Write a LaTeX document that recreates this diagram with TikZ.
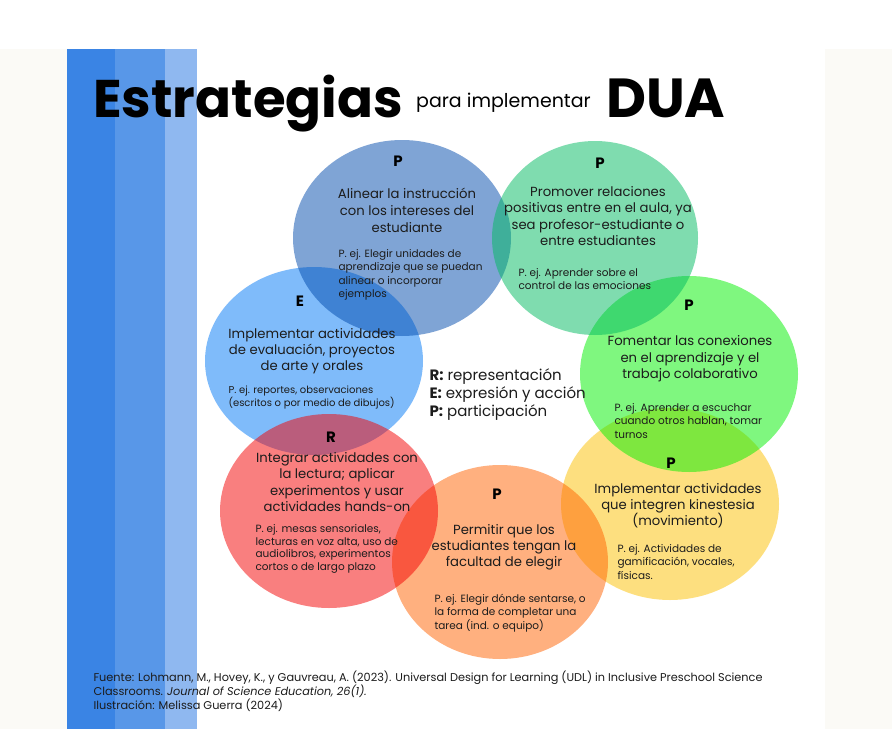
\documentclass[tikz,border=0pt]{standalone}
\usepackage{fontspec}
\setmainfont{Poppins}

\definecolor{paper}{RGB}{251,250,246}
\definecolor{barA}{RGB}{58,132,228}
\definecolor{barB}{RGB}{88,151,232}
\definecolor{barC}{RGB}{143,184,240}
\definecolor{ink}{RGB}{28,28,28}
\definecolor{cNavy}{RGB}{0,74,173}
\definecolor{cTeal}{RGB}{0,187,97}
\definecolor{cSky}{RGB}{0,120,247}
\definecolor{cLime}{RGB}{0,240,0}
\definecolor{cRed}{RGB}{245,0,0}
\definecolor{cOrange}{RGB}{255,98,0}
\definecolor{cYellow}{RGB}{253,193,0}

\tikzset{
    blob/.style = {fill opacity = 0.5},
    tag/.style = {font = {\bfseries\fontsize{15}{15}\selectfont}, text = black},
    idea/.style = {align = center, font = {\fontsize{13.2}{17}\selectfont}, text = ink},
    eg/.style = {anchor = west, align = left, font = {\fontsize{10.5}{13.5}\selectfont}, text = ink},
    key/.style = {anchor = west, font = {\fontsize{15}{18}\selectfont}, text = ink},
}

\begin{document}
\begin{tikzpicture}[x = 1pt, y = -1pt]
        \useasboundingbox (0, 0) rectangle (892, 747);
        \fill[white] (0, 0) rectangle (892, 747);
        \fill[paper] (0, 49) rectangle (892, 729);
        \fill[white] (67, 49) rectangle (825, 729);
        \fill[barA] (67, 49) rectangle (115, 729);
        \fill[barB] (115, 49) rectangle (165, 729);
        \fill[barC] (165, 49) rectangle (197, 729);

        \node[anchor = base west, inner sep = 0, font = {\bfseries\fontsize{53}{53}\selectfont}, black] (title) at (93, 117) {Estrategias};
        \node[anchor = base west, inner sep = 0, font = {\fontsize{19}{19}\selectfont}, black] (sub) at (416, 107) {para implementar};
        \node[anchor = base west, inner sep = 0, font = {\bfseries\fontsize{55}{55}\selectfont}, black] (dua) at (606, 117) {DUA};

        \fill[cYellow, blob] (670, 504) ellipse [x radius = 109, y radius = 96];
        \fill[cSky, blob] (314, 361) ellipse [x radius = 109, y radius = 94];
        \fill[cLime, blob] (689, 374) ellipse [x radius = 109, y radius = 98];
        \fill[cNavy, blob] (402, 238) ellipse [x radius = 109, y radius = 98];
        \fill[cTeal, blob] (595, 238) ellipse [x radius = 103, y radius = 97];
        \fill[cOrange, blob] (500, 562) ellipse [x radius = 108, y radius = 97];
        \fill[cRed, blob] (329, 511) ellipse [x radius = 109, y radius = 97];

        \node[tag] (tagA) at (398, 161) {P};
        \node[idea] (ideaA) at (407, 210) {Alinear la instrucción\\con los intereses del\\estudiante};
        \node[eg] (egA) at (335, 275) {P. ej. Elegir unidades de\\aprendizaje que se puedan\\alinear o incorporar\\ejemplos};

        \node[tag] (tagB) at (600, 163) {P};
        \node[idea, font = {\fontsize{13.2}{16.3}\selectfont}] (ideaB) at (598, 216) {Promover relaciones\\positivas entre en el aula, ya\\sea profesor-estudiante o\\entre estudiantes};
        \node[eg] (egB) at (515, 279) {P. ej. Aprender sobre el\\control de las emociones};

        \node[tag] (tagC) at (300, 301) {E};
        \node[idea, font = {\fontsize{13.2}{16}\selectfont}] (ideaC) at (312, 351) {Implementar actividades\\de evaluación, proyectos\\de arte y orales};
        \node[eg, font = {\fontsize{10}{13}\selectfont}] (egC) at (225, 397) {P. ej. reportes, observaciones\\(escritos o por medio de dibujos)};

        \node[key] (keyR) at (426, 377) {\textbf{R:} representación};
        \node[key] (keyE) at (426, 395) {\textbf{E:} expresión y acción};
        \node[key] (keyP) at (426, 413) {\textbf{P:} participación};

        \node[tag] (tagD) at (689, 305) {P};
        \node[idea, font = {\fontsize{13.2}{16.5}\selectfont}] (ideaD) at (690, 359) {Fomentar las conexiones\\en el aprendizaje y el\\trabajo colaborativo};
        \node[eg] (egD) at (611, 421) {P. ej. Aprender a escuchar\\cuando otros hablan, tomar\\turnos};

        \node[tag] (tagE) at (671, 463) {P};
        \node[idea, font = {\fontsize{13.2}{16}\selectfont}] (ideaE) at (678, 506) {Implementar actividades\\que integren kinestesia\\(movimiento)};
        \node[eg] (egE) at (614, 562) {P. ej. Actividades de\\gamificación, vocales,\\físicas.};

        \node[tag] (tagF) at (331, 437) {R};
        \node[idea, font = {\fontsize{13.2}{16.3}\selectfont}] (ideaF) at (337, 482) {Integrar actividades con\\la lectura; aplicar\\experimentos y usar\\actividades hands-on};
        \node[eg, font = {\fontsize{10.5}{12.7}\selectfont}] (egF) at (252, 549) {P. ej. mesas sensoriales,\\lecturas en voz alta, uso de\\audiolibros, experimentos\\cortos o de largo plazo};

        \node[tag] (tagG) at (497, 494) {P};
        \node[idea, font = {\fontsize{13.2}{16}\selectfont}] (ideaG) at (504, 547) {Permitir que los\\estudiantes tengan la\\facultad de elegir};
        \node[eg] (egG) at (431, 613) {P. ej. Elegir dónde sentarse, o\\la forma de completar una\\tarea (ind. o equipo)};

        \node[anchor = west, align = left, font = {\fontsize{11.3}{14}\selectfont}, text = ink] (source) at (90, 691) {Fuente: Lohmann, M., Hovey, K., y Gauvreau, A. (2023). Universal Design for Learning (UDL) in Inclusive Preschool Science\\Classrooms. \textit{Journal of Science Education, 26(1).}\\Ilustración: Melissa Guerra (2024)};
    \end{tikzpicture}
\end{document}
